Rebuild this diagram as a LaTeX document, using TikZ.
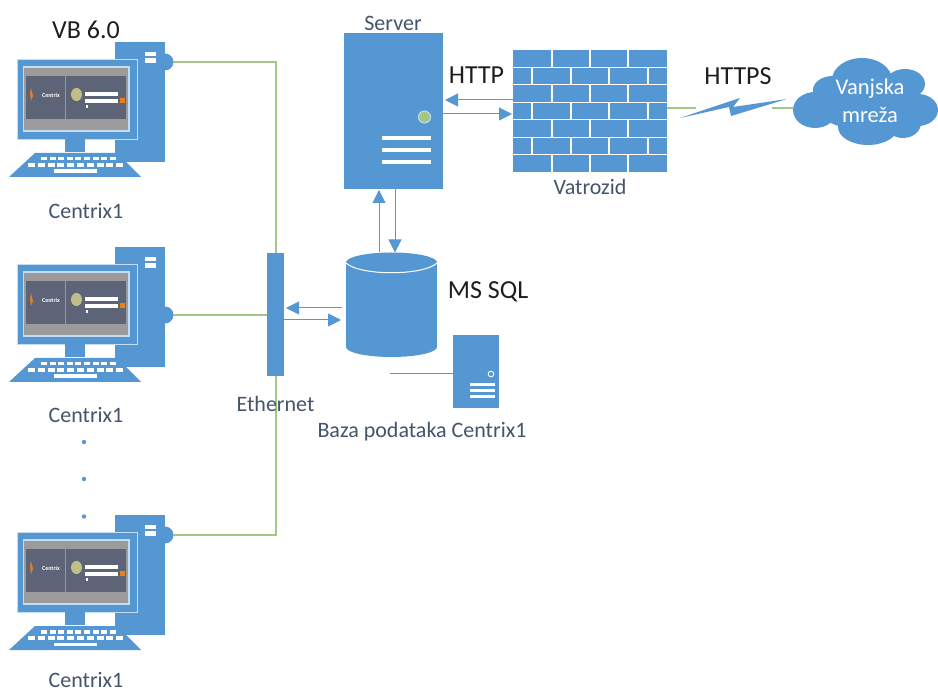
\documentclass[tikz,border=0pt]{standalone}
\usepackage{fontspec}
\setmainfont{Carlito}
\usetikzlibrary{arrows.meta}
\definecolor{blu}{HTML}{5597D3}
\definecolor{grn}{HTML}{A3C684}
\definecolor{lbl}{HTML}{44546A}
\definecolor{blk}{HTML}{1E1E1E}
\definecolor{pale}{HTML}{C5DDF0}
\definecolor{scr}{HTML}{5E6478}
\definecolor{gry}{HTML}{9B9B9B}
\tikzset{
 block/.style={fill=blu,inner sep=0pt,outer sep=0pt,minimum width=#1},
 anchorbox/.style={inner sep=0pt,outer sep=0pt},
 link/.style={draw=grn,line width=1.5pt},
 flow/.style={draw=blu,line width=1pt,-{Triangle[length=13pt,width=13pt]}},
 plainflow/.style={draw=blu,line width=1pt},
 whitebar/.style={draw=white,line width=3.2pt},
 lab/.style={text=lbl,font=\fontsize{22}{24}\selectfont,inner sep=0pt},
 big/.style={text=blk,font=\fontsize{26}{28}\selectfont,inner sep=0pt},
 cloudtext/.style={text=white,inner sep=0pt,font=\fontsize{22.5}{24}\selectfont},
}
\newcommand{\pcdraw}[3]{%
\begin{scope}[shift={(0,#1)}]
 \fill[blu] (115,42) rectangle (165,162);
 \fill[blu] (165,#2) circle[radius=8.5];
 \coordinate (port#3) at (173,#2);
 \fill[white] (145,52) rectangle (156,56.5);
 \fill[white] (145,58.5) rectangle (156,63);
 \fill[blu,draw=pale,line width=0.8pt] (17,59) rectangle (137,139);
 \fill[gry,draw=pale,line width=1.2pt] (23.5,67) rectangle (129,131);
 \fill[scr] (26,76) rectangle (126,119);
 \draw[gry!80!brown,line width=0.8pt] (65.5,76) -- (65.5,119);
 \fill[blu] (65,139) rectangle (85,152);
 \fill[blu] (35,153) -- (117,153) -- (141,177) -- (9,177) -- cycle;
 \foreach \k in {0,...,8} {\fill[white] ({41+8.6*\k},157) rectangle ({47+8.6*\k},160.5);}
 \foreach \k in {0,...,9} {\fill[white] ({28+9.8*\k},163) rectangle ({35+9.8*\k},167);}
 \fill[white] (54,169.5) rectangle (97,173);
 \fill[orange!55!brown] (31,88) -- (33,96) -- (31,101) -- (30,94) -- cycle;
 \node[text=white,inner sep=0pt,font=\fontsize{6}{6}\selectfont\bfseries] (brand#3) at (51,95) {Centrix};
 \fill[yellow!30!gry] (76.5,94.5) circle[x radius=5.5,y radius=6.5];
 \fill[white] (85,92) rectangle (118,96);
 \fill[white] (85,99.5) rectangle (118,103.5);
 \fill[orange!70!brown] (120,98) rectangle (125,103);
 \fill[white] (85.5,105.5) rectangle (88,108);
\end{scope}}
\begin{document}
\begin{tikzpicture}[x=1pt,y=-1pt]
\useasboundingbox (0,0) rectangle (938,692);
\fill[white] (0,0) rectangle (938,692);
\coordinate (busTop) at (276,61.3);
\coordinate (busBot) at (276,535.7);
\draw[link] (busTop) -- (busBot);
\pcdraw{0}{62}{A}
\pcdraw{205}{110}{B}
\pcdraw{473}{62}{C}
\draw[link] (portA) -- (portA -| busTop);
\draw[link] (portB) -- (portB -| busTop);
\draw[link] (portC) -- (portC -| busTop);
% ethernet bar
\node[block=17pt,minimum height=123pt] (eth) at (275.5,314.5) {};
% server
\node[block=99pt,minimum height=156pt] (server) at (393.5,111) {};
\fill[grn,draw=pale,line width=1pt] (424.5,117) circle[radius=6];
\draw[whitebar] (382,138) -- (431,138);
\draw[whitebar] (382,150) -- (431,150);
\draw[whitebar] (382,162) -- (431,162);
% firewall
\node[block=154pt,minimum height=122pt] (wall) at (590,111) {};
\foreach \r in {1,...,6} {\draw[white,line width=1.2pt] (513,{50+17.43*\r}) -- (667,{50+17.43*\r});}
\foreach \r in {0,2,4,6} \foreach \v in {552,590,628} {\draw[white,line width=1.2pt] (\v,{50+17.43*\r}) -- (\v,{50+17.43*(\r+1)});}
\foreach \r in {1,3,5} \foreach \v in {532,571,609,648} {\draw[white,line width=1.2pt] (\v,{50+17.43*\r}) -- (\v,{50+17.43*(\r+1)});}
% database
\node[anchorbox,minimum width=91pt,minimum height=105pt] (db) at (391.5,305) {};
\fill[blu] (346,263) rectangle (437,347);
\fill[blu] (391.5,347) circle[x radius=45.5,y radius=10];
\fill[blu] (391.5,262.5) circle[x radius=45.5,y radius=10];
\draw[white,line width=1pt] (346,263) .. controls (360,276) and (423,276) .. (437,263);
% small server
\node[block=46pt,minimum height=73pt] (box) at (476,371.5) {};
\draw[white,line width=0.9pt] (491,374) circle[radius=2.8];
\draw[white,line width=2.4pt] (470,384.5) -- (495,384.5);
\draw[white,line width=2.4pt] (470,390.5) -- (495,390.5);
\draw[white,line width=2.4pt] (470,396.5) -- (495,396.5);
\coordinate (boxEnd) at (390,374);
\draw[plainflow] (box.west |- boxEnd) -- (boxEnd);
% flows
\coordinate (fwTop) at (0,100);
\coordinate (fwBot) at (0,114);
\coordinate (upX) at (379,0);
\coordinate (downX) at (395,0);
\coordinate (ethTop) at (0,308);
\coordinate (ethBot) at (0,320);
\draw[flow] (wall.west |- fwTop) -- ([xshift=2pt]server.east |- fwTop);
\draw[flow] (server.east |- fwBot) -- ([xshift=-1pt]wall.west |- fwBot);
\draw[flow] (upX |- db.north) -- ([yshift=-1pt]upX |- server.south);
\draw[flow] (downX |- server.south) -- (downX |- db.north);
\draw[flow] ([xshift=-4pt]db.west |- ethTop) -- ([xshift=2pt]eth.east |- ethTop);
\draw[flow] (eth.east |- ethBot) -- ([xshift=-5pt]db.west |- ethBot);
% cloud
\node[anchorbox,minimum width=145pt,minimum height=87pt] (cloud) at (865.5,101.5) {};
\fill[blu] (866,100) circle[x radius=55,y radius=30];
\fill[blu] (862,80) circle[x radius=30,y radius=22];
\fill[blu] (905,84) circle[x radius=20,y radius=15];
\fill[blu] (918,110) circle[x radius=20,y radius=16];
\fill[blu] (815,110) circle[x radius=22,y radius=18];
\fill[blu] (833,90) circle[x radius=20,y radius=14];
\fill[blu] (868,127) circle[x radius=30,y radius=18];
\fill[blu] (903,123) circle[x radius=18,y radius=15];
% bolt and its links
\coordinate (boltL) at (696,108);
\coordinate (boltR) at (772,108);
\draw[link] (wall.east |- boltL) -- (boltL);
\draw[link] (boltR) -- (cloud.west |- boltR);
\fill[blu] (680,118) -- (740,98) -- (733,107) -- (787,99) -- (731,116) -- (729,107) -- cycle;
% dots
\fill[blu] (84,442) circle[radius=2.2];
\fill[blu] (84,479) circle[radius=2.2];
\fill[blu] (84,516.5) circle[radius=2.2];
% labels
\node[big] (vb) at (86,30) {VB 6.0};
\node[big] (http) at (476.5,75) {HTTP};
\node[big] (https) at (738,76) {HTTPS};
\node[big] (sql) at (488,292) {MS SQL};
\node[lab] (srv) at (393,23) {Server};
\node[lab] (vat) at (590,187) {Vatrozid};
\node[lab] (ethl) at (275.5,404) {Ethernet};
\node[lab] (baza) at (422,432) {Baza podataka Centrix1};
\node[lab] (c1) at (86,211) {Centrix1};
\node[lab] (c2) at (86,415) {Centrix1};
\node[lab] (c3) at (86,680) {Centrix1};
\node[cloudtext] (v1) at (870,89) {Vanjska};
\node[cloudtext] (v2) at (870,115) {mreža};
\end{tikzpicture}
\end{document}
